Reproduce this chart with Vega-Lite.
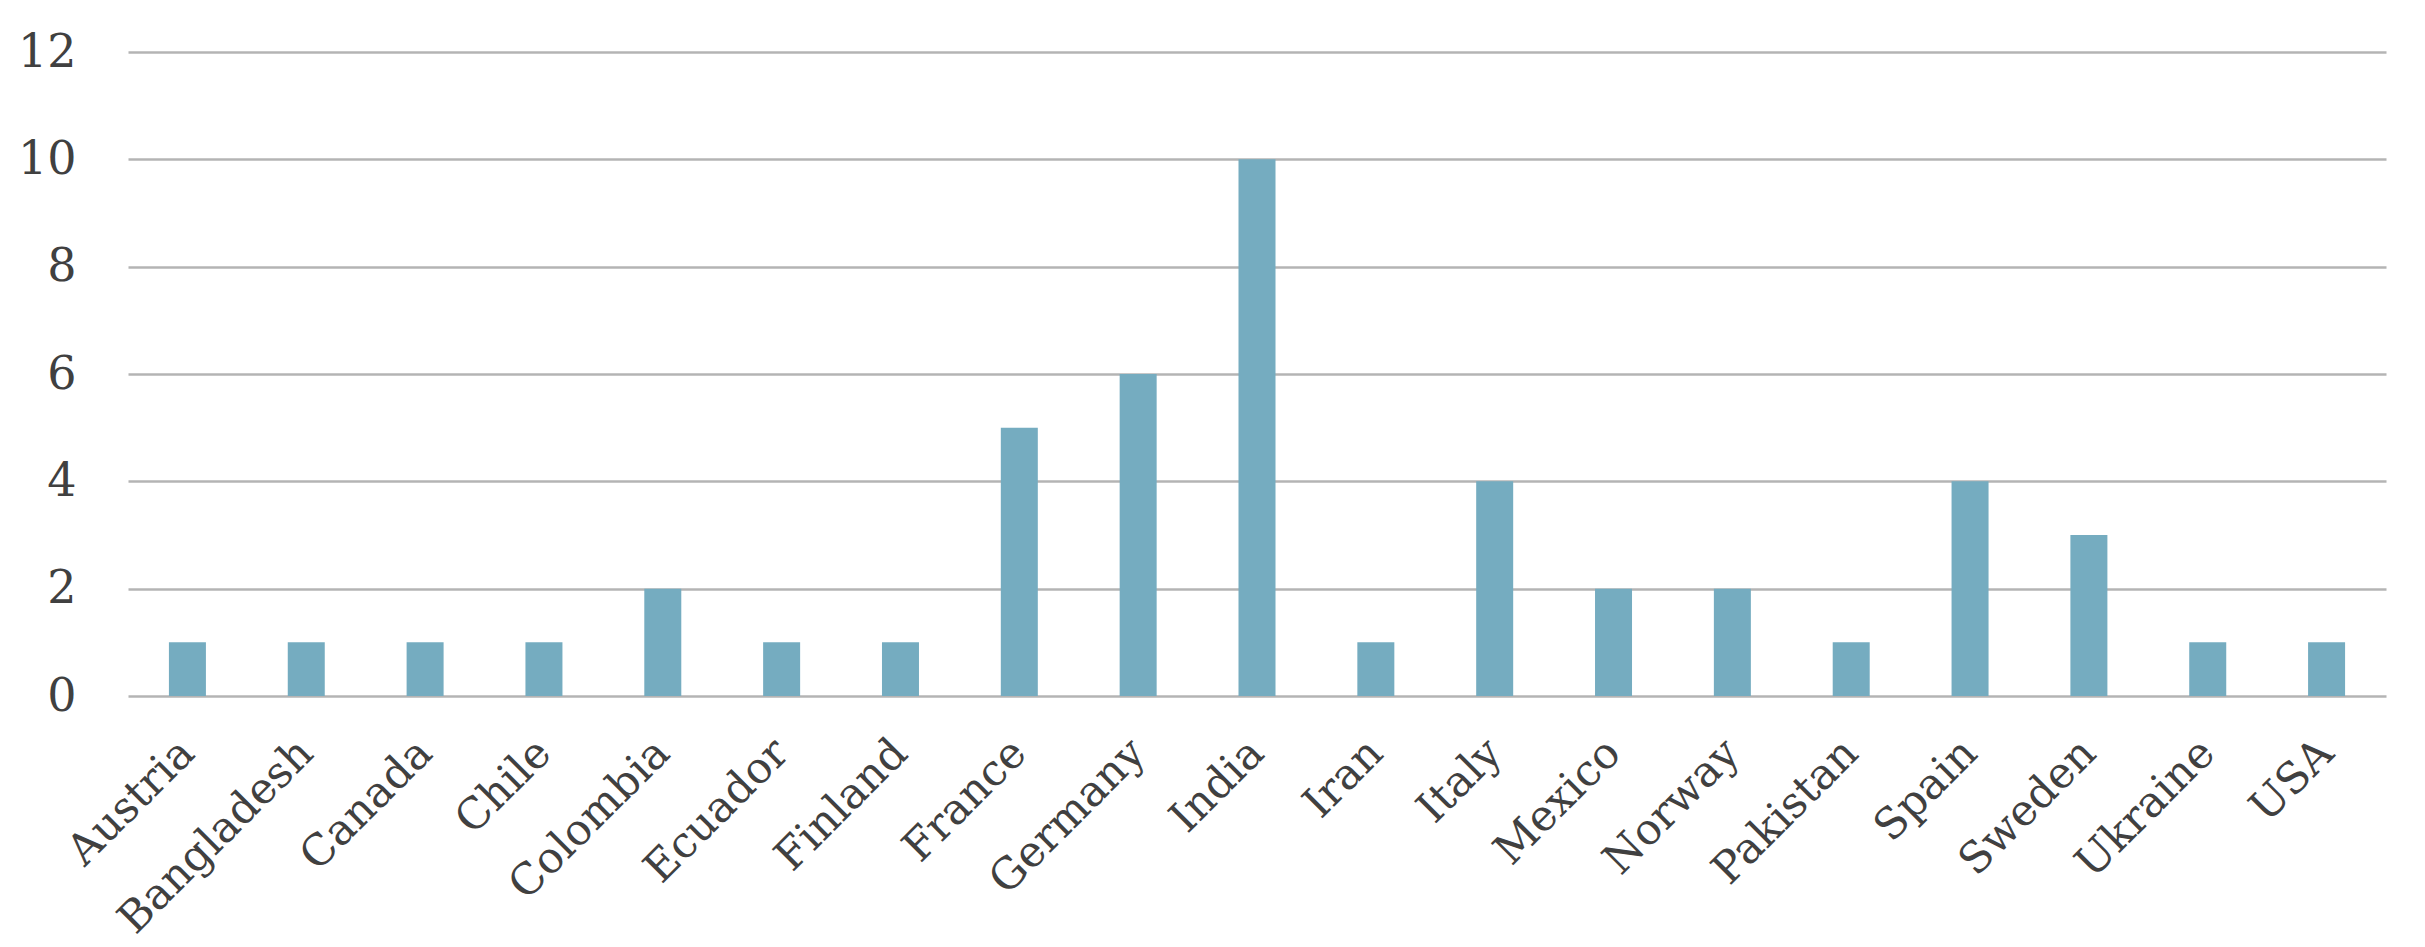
{
  "$schema": "https://vega.github.io/schema/vega-lite/v6.json",
  "autosize": {"type": "none"},
  "padding": {"left": 128, "top": 52, "right": 39, "bottom": 251},
  "width": 2258,
  "height": 644,
  "background": "white",
  "data": {"values": [
    {"country": "Austria", "count": 1},
    {"country": "Bangladesh", "count": 1},
    {"country": "Canada", "count": 1},
    {"country": "Chile", "count": 1},
    {"country": "Colombia", "count": 2},
    {"country": "Ecuador", "count": 1},
    {"country": "Finland", "count": 1},
    {"country": "France", "count": 5},
    {"country": "Germany", "count": 6},
    {"country": "India", "count": 10},
    {"country": "Iran", "count": 1},
    {"country": "Italy", "count": 4},
    {"country": "Mexico", "count": 2},
    {"country": "Norway", "count": 2},
    {"country": "Pakistan", "count": 1},
    {"country": "Spain", "count": 4},
    {"country": "Sweden", "count": 3},
    {"country": "Ukraine", "count": 1},
    {"country": "USA", "count": 1}
  ]},
  "config": {
    "view": {"stroke": null},
    "font": "DejaVu Serif"
  },
  "mark": {"type": "bar", "color": "#75ACC0", "size": 37},
  "encoding": {
    "x": {
      "field": "country", "type": "nominal", "sort": null,
      "scale": {"paddingInner": 0, "paddingOuter": 0},
      "axis": {
        "title": null, "domain": false, "ticks": false,
        "labelAngle": -45, "labelAlign": "right", "labelBaseline": "middle",
        "labelFontSize": 43, "labelColor": "#404040", "labelLimit": 0,
        "labelPadding": 50, "labelFont": "DejaVu Serif"
      }
    },
    "y": {
      "field": "count", "type": "quantitative",
      "scale": {"domain": [0, 12], "nice": false},
      "axis": {
        "title": null, "domain": false, "ticks": false,
        "values": [0, 2, 4, 6, 8, 10, 12],
        "labelFontSize": 46, "labelColor": "#404040", "labelPadding": 52,
        "labelFont": "DejaVu Serif",
        "grid": true, "gridColor": "#B4B4B4", "gridWidth": 2.5
      }
    }
  }
}
